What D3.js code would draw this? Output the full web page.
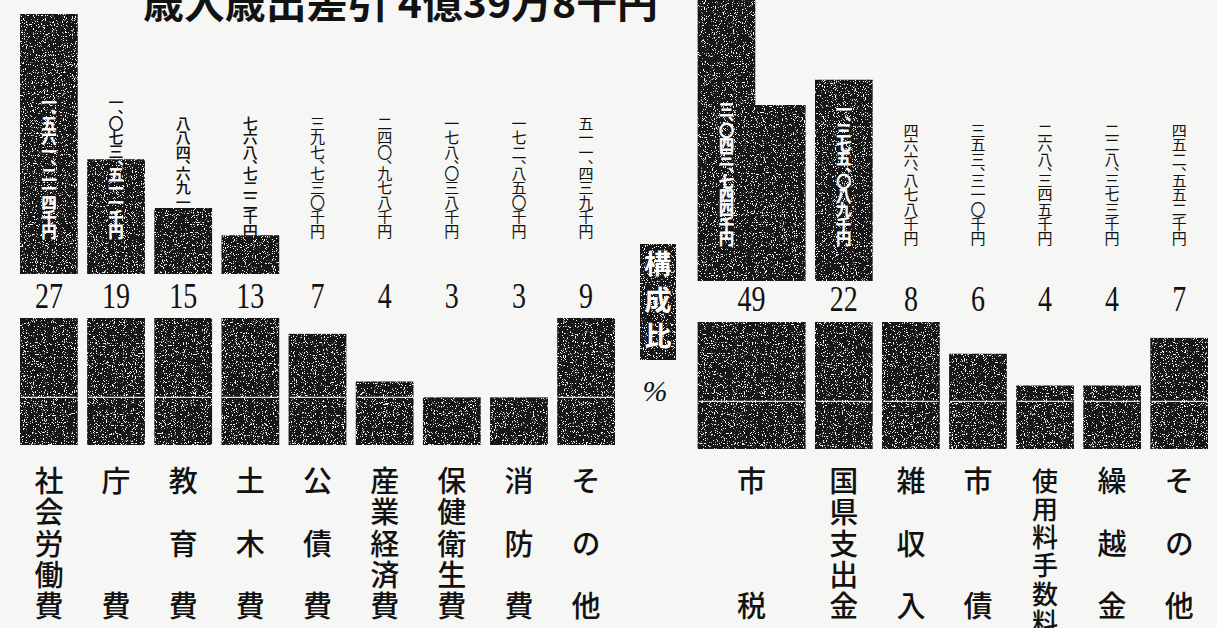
<!DOCTYPE html>
<html>
<head>
<meta charset="utf-8">
<script src="https://cdn.jsdelivr.net/npm/d3@7"></script>
<style>
  body { margin: 0; background: #f6f6f4; }
  svg { display: block; }
  text { font-family: "Noto Sans CJK JP", sans-serif; }
  .vert { writing-mode: vertical-rl; text-orientation: upright; }
</style>
</head>
<body>
<svg id="chart" width="1217" height="628"></svg>
<script>
// --- data (amounts in thousand yen, shares in %) ---
const titleText = "歳入歳出差引 4億39万8千円";
const shareTitle = "構成比";

const expCats = ["社会労働費", "庁費", "教育費", "土木費", "公債費", "産業経済費", "保健衛生費", "消防費", "その他"];
const expAmounts = [1561214, 1073511, 884691, 768722, 397730, 240978, 178038, 172850, 511439];
const expShares = [27, 19, 15, 13, 7, 4, 3, 3, 9];

const revCats = ["市税", "国県支出金", "雑収入", "市債", "使用料手数料", "繰越金", "その他"];
const revAmounts = [3043744, 1375089, 466878, 353310, 268345, 228373, 452552];
const revShares = [49, 22, 8, 6, 4, 4, 7];

const W = 1217, H = 628;
const svg = d3.select("#chart");
const defs = svg.append("defs");
svg.append("rect").attr("width", W).attr("height", H).attr("fill", "#f6f6f4");

// halftone-ish speckle for the black bars
const grain = defs.append("filter").attr("id", "grain")
  .attr("x", 0).attr("y", 0).attr("width", 1).attr("height", 1);
grain.append("feTurbulence").attr("type", "fractalNoise")
  .attr("baseFrequency", 0.9).attr("numOctaves", 2).attr("seed", 4).attr("result", "noise");
grain.append("feColorMatrix").attr("in", "noise").attr("type", "matrix")
  .attr("values", "0 0 0 0 1  0 0 0 0 1  0 0 0 0 1  16 0 0 0 -9.9").attr("result", "dots");
grain.append("feComposite").attr("in", "dots").attr("in2", "SourceAlpha")
  .attr("operator", "in").attr("result", "spk");
const merge = grain.append("feMerge");
merge.append("feMergeNode").attr("in", "SourceGraphic");
merge.append("feMergeNode").attr("in", "spk");

const INK = "#121212";
const kanjiDigits = "〇一二三四五六七八九";
const kanjiAmount = (v) =>
  d3.format(",")(v).replace(/\d/g, (d) => kanjiDigits[d]).replace(/,/g, "、") + "千円";

// --- scales ---
const xL = d3.scaleBand().domain(expCats).range([20, 615]).paddingInner(0.14);
const xR = d3.scaleBand().domain(revCats.slice(1)).range([815, 1208]).paddingInner(0.14);
const wideW = 108;

const amountScale = d3.scalePow().exponent(1.5).domain([588000, 1561214]).range([0, 260]);
const shareScale = d3.scaleLinear().domain([0, 8]).range([0, 127]).clamp(true);

// title
svg.append("text")
  .attr("x", 143).attr("y", 18)
  .attr("font-size", 39).attr("font-weight", 700).attr("fill", INK)
  .attr("textLength", 515).attr("lengthAdjust", "spacingAndGlyphs")
  .text(titleText);

// gradient that turns the label white where it runs into its bar
function splitFill(id, barTop) {
  const off = Math.max(0, barTop) / H;
  const gr = defs.append("linearGradient").attr("id", id)
    .attr("gradientUnits", "userSpaceOnUse")
    .attr("x1", 0).attr("y1", 0).attr("x2", 0).attr("y2", H);
  gr.append("stop").attr("offset", off).attr("stop-color", INK);
  gr.append("stop").attr("offset", off).attr("stop-color", "#fff");
  const st = defs.append("linearGradient").attr("id", id + "-s")
    .attr("gradientUnits", "userSpaceOnUse")
    .attr("x1", 0).attr("y1", 0).attr("x2", 0).attr("y2", H);
  st.append("stop").attr("offset", off).attr("stop-color", INK).attr("stop-opacity", 0);
  st.append("stop").attr("offset", off).attr("stop-color", "#fff");
  return id;
}

// vertical number label, bottom aligned
function vLabel(g, str, cx, bottom) {
  const t = g.append("text").attr("class", "vert")
    .attr("x", cx).attr("y", bottom).attr("text-anchor", "end")
    .attr("font-size", 15).attr("letter-spacing", -0.6).attr("fill", INK);
  str.split(/(、)/).filter((p) => p).forEach((p) => {
    const ts = t.append("tspan").text(p);
    if (p === "、") ts.attr("letter-spacing", -8);
  });
  return t;
}

// vertical category label spread over five rows
function catLabel(g, str, cx) {
  const chars = [...str];
  const n = chars.length;
  const fs = n > 5 ? 26 : 29;
  const step = n > 5 ? 28.2 : (4 * 31.3) / (n - 1);
  const t = g.append("text").attr("class", "vert")
    .attr("font-size", fs).attr("font-weight", 500).attr("fill", INK);
  chars.forEach((c, i) => {
    t.append("tspan").attr("x", cx).attr("y", 481 - fs / 2 + i * step).text(c);
  });
}

function drawPanel(id, cats, amounts, shares, xpos, cfg) {
  const g = svg.append("g").attr("class", id);
  const items = cats.map((c, i) => ({ cat: c, amount: amounts[i], share: shares[i], ...xpos(c) }));

  // --- upper amount bars ---
  items.forEach((d) => {
    const h = amountScale(d.amount);
    d.labelX = d.x + d.w / 2;
    d.barTop = null;
    if (h <= 0) return;
    let pathD;
    if (cfg.base - h < 0) {
      // too tall: narrow column runs off the top, bar widened below
      const nW = xR.bandwidth();
      pathD = `M${d.x},${cfg.base - h}H${d.x + nW}V${cfg.base - cfg.fold}H${d.x + d.w}V${cfg.base}H${d.x}Z`;
      d.labelX = d.x + nW / 2;
    } else {
      pathD = `M${d.x},${cfg.base - h}H${d.x + d.w}V${cfg.base}H${d.x}Z`;
    }
    d.barTop = cfg.base - h;
    g.append("path").attr("d", pathD).attr("fill", INK).attr("filter", "url(#grain)");
  });

  items.forEach((d, i) => {
    const t = vLabel(g, kanjiAmount(d.amount), d.labelX, cfg.labelBottom);
    if (d.barTop !== null) {
      const gid = splitFill(`${id}-lab-${i}`, d.barTop);
      t.attr("fill", `url(#${gid})`).attr("stroke", `url(#${gid}-s)`)
        .attr("stroke-width", 0.8).attr("font-weight", 500);
    }
  });

  // --- share numbers ---
  items.forEach((d) => {
    g.append("text")
      .attr("transform", `translate(${d.x + d.w / 2},${cfg.pctY}) scale(0.8,1)`)
      .attr("text-anchor", "middle")
      .style("font-family", "'Liberation Serif', serif")
      .attr("font-size", 35).attr("fill", INK)
      .text(d.share);
  });

  // --- share bars ---
  items.forEach((d) => {
    const h = shareScale(d.share);
    g.append("rect")
      .attr("x", d.x).attr("y", cfg.pctBase - h)
      .attr("width", d.w).attr("height", h)
      .attr("fill", INK).attr("filter", "url(#grain)");
    if (d.share > 3) {
      g.append("line")
        .attr("x1", d.x + 1).attr("x2", d.x + d.w - 1)
        .attr("y1", cfg.pctBase - shareScale(3)).attr("y2", cfg.pctBase - shareScale(3))
        .attr("stroke", "#fff").attr("stroke-width", 1.4).attr("opacity", 0.85);
    }
    catLabel(g, d.cat, d.x + d.w / 2);
  });
}

drawPanel("exp", expCats, expAmounts, expShares,
  (c) => ({ x: xL(c), w: xL.bandwidth() }),
  { base: 274, labelBottom: 238, pctBase: 445, pctY: 308 });

drawPanel("rev", revCats, revAmounts, revShares,
  (c) => c === revCats[0]
    ? { x: xR.range()[0] - (xR.step() - xR.bandwidth()) - wideW, w: wideW }
    : { x: xR(c), w: xR.bandwidth() },
  { base: 281, labelBottom: 245, pctBase: 449, pctY: 311, fold: 176 });

// --- 構成比 % tag in the middle ---
const mid = svg.append("g");
mid.append("rect").attr("x", 640).attr("y", 244).attr("width", 36).attr("height", 116)
  .attr("fill", INK).attr("filter", "url(#grain)");
mid.append("text").attr("class", "vert")
  .attr("x", 658).attr("y", 250)
  .attr("font-size", 27).attr("font-weight", 700).attr("fill", "#fff")
  .attr("letter-spacing", 9)
  .text(shareTitle);
mid.append("text").attr("x", 655).attr("y", 401)
  .attr("text-anchor", "middle")
  .style("font-family", "'Liberation Serif', serif").style("font-style", "italic")
  .attr("font-size", 30).attr("fill", INK).text("%");
</script>
</body>
</html>
